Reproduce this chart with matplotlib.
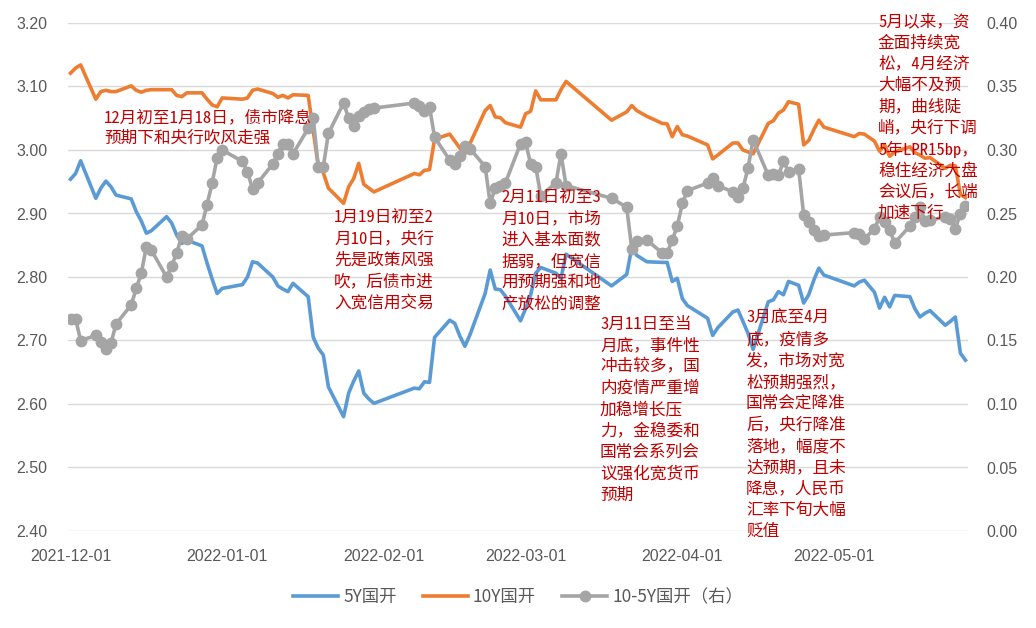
import matplotlib
matplotlib.use('Agg')
import matplotlib.pyplot as plt
from matplotlib import font_manager
from matplotlib.lines import Line2D
from matplotlib.ticker import FormatStrFormatter
from datetime import datetime, timedelta

dates = [
    "2021-12-01", "2021-12-02", "2021-12-03", "2021-12-06", "2021-12-07", "2021-12-08",
    "2021-12-09", "2021-12-10", "2021-12-13", "2021-12-14", "2021-12-15", "2021-12-16",
    "2021-12-17", "2021-12-20", "2021-12-21", "2021-12-22", "2021-12-23", "2021-12-24",
    "2021-12-27", "2021-12-28", "2021-12-29", "2021-12-30", "2021-12-31",
    "2022-01-04", "2022-01-05", "2022-01-06", "2022-01-07", "2022-01-10", "2022-01-11",
    "2022-01-12", "2022-01-13", "2022-01-14", "2022-01-17", "2022-01-18", "2022-01-19",
    "2022-01-20", "2022-01-21", "2022-01-24", "2022-01-25", "2022-01-26", "2022-01-27",
    "2022-01-28", "2022-01-29", "2022-01-30",
    "2022-02-07", "2022-02-08", "2022-02-09", "2022-02-10", "2022-02-11", "2022-02-14",
    "2022-02-15", "2022-02-16", "2022-02-17", "2022-02-18", "2022-02-21", "2022-02-22",
    "2022-02-23", "2022-02-24", "2022-02-25", "2022-02-28",
    "2022-03-01", "2022-03-02", "2022-03-03", "2022-03-04", "2022-03-07", "2022-03-08",
    "2022-03-09", "2022-03-18", "2022-03-21", "2022-03-22", "2022-03-23", "2022-03-25",
    "2022-03-28", "2022-03-29", "2022-03-30", "2022-03-31",
    "2022-04-01", "2022-04-02", "2022-04-06", "2022-04-07", "2022-04-08", "2022-04-11",
    "2022-04-12", "2022-04-13", "2022-04-14", "2022-04-15", "2022-04-18", "2022-04-19",
    "2022-04-20", "2022-04-21", "2022-04-22", "2022-04-24", "2022-04-25", "2022-04-26",
    "2022-04-27", "2022-04-28", "2022-04-29",
    "2022-05-05", "2022-05-06", "2022-05-07", "2022-05-09", "2022-05-10", "2022-05-11",
    "2022-05-12", "2022-05-13", "2022-05-16", "2022-05-17", "2022-05-18", "2022-05-19",
    "2022-05-20", "2022-05-23", "2022-05-24", "2022-05-25", "2022-05-26", "2022-05-27",
]

cdb_5y = [
    2.954, 2.963, 2.983, 2.924, 2.940, 2.951,
    2.942, 2.929, 2.923, 2.903, 2.888, 2.869,
    2.873, 2.895, 2.885, 2.866, 2.853, 2.858,
    2.849, 2.822, 2.797, 2.774, 2.782,
    2.788, 2.800, 2.824, 2.822, 2.800, 2.786,
    2.781, 2.777, 2.790, 2.769, 2.705, 2.688,
    2.677, 2.627, 2.580, 2.617, 2.636, 2.652,
    2.617, 2.608, 2.601,
    2.625, 2.624, 2.635, 2.634, 2.705, 2.732,
    2.727, 2.707, 2.691, 2.709, 2.774, 2.811,
    2.781, 2.780, 2.770, 2.731,
    2.750, 2.772, 2.806, 2.815, 2.806, 2.798,
    2.836, 2.786, 2.804, 2.846, 2.834, 2.824,
    2.823, 2.823, 2.793, 2.798,
    2.766, 2.755, 2.735, 2.708, 2.720, 2.745,
    2.748, 2.730, 2.711, 2.686, 2.761, 2.764,
    2.777, 2.772, 2.793, 2.787, 2.759, 2.772,
    2.795, 2.814, 2.803,
    2.786, 2.792, 2.795, 2.776, 2.751, 2.768,
    2.753, 2.771, 2.769, 2.750, 2.737, 2.743,
    2.747, 2.724, 2.730, 2.737, 2.680, 2.669,
]

cdb_10y = [
    3.121, 3.129, 3.134, 3.080, 3.092, 3.094,
    3.092, 3.092, 3.101, 3.094, 3.091, 3.094,
    3.095, 3.095, 3.095, 3.086, 3.084, 3.090,
    3.090, 3.080, 3.071, 3.068, 3.082,
    3.080, 3.082, 3.094, 3.096, 3.089, 3.083,
    3.086, 3.082, 3.087, 3.086, 3.030, 2.975,
    2.964, 2.940, 2.916, 2.942, 2.955, 2.979,
    2.946, 2.940, 2.934,
    2.963, 2.961, 2.968, 2.969, 3.017, 3.025,
    3.014, 3.003, 2.994, 3.010, 3.062, 3.070,
    3.052, 3.051, 3.043, 3.036,
    3.057, 3.061, 3.093, 3.079, 3.079, 3.095,
    3.108, 3.047, 3.060, 3.070, 3.062, 3.053,
    3.042, 3.041, 3.021, 3.037,
    3.024, 3.022, 3.008, 2.986, 2.992, 3.011,
    3.011, 3.000, 2.997, 2.994, 3.042, 3.046,
    3.058, 3.063, 3.076, 3.072, 3.008, 3.015,
    3.032, 3.047, 3.036,
    3.021, 3.026, 3.025, 3.014, 2.998, 3.008,
    2.990, 2.997, 3.005, 2.996, 2.992, 2.987,
    2.988, 2.971, 2.976, 2.975, 2.930, 2.925,
]

spread_10_5 = [
    0.167, 0.167, 0.150, 0.154, 0.149, 0.143,
    0.148, 0.163, 0.178, 0.191, 0.203, 0.224,
    0.221, 0.200, 0.209, 0.219, 0.232, 0.230,
    0.241, 0.257, 0.274, 0.294, 0.300,
    0.291, 0.283, 0.269, 0.274, 0.289, 0.297,
    0.305, 0.305, 0.297, 0.317, 0.325, 0.287,
    0.287, 0.313, 0.337, 0.325, 0.319, 0.327,
    0.330, 0.332, 0.333,
    0.337, 0.335, 0.331, 0.334, 0.310, 0.292,
    0.289, 0.295, 0.303, 0.301, 0.287, 0.258,
    0.270, 0.272, 0.274, 0.305,
    0.306, 0.289, 0.287, 0.264, 0.274, 0.297,
    0.272, 0.262, 0.255, 0.222, 0.228, 0.229,
    0.219, 0.219, 0.229, 0.240,
    0.258, 0.268, 0.274, 0.278, 0.272, 0.267,
    0.263, 0.270, 0.286, 0.308, 0.280, 0.281,
    0.280, 0.291, 0.283, 0.285, 0.249, 0.243,
    0.237, 0.232, 0.233,
    0.235, 0.234, 0.230, 0.238, 0.247, 0.243,
    0.237, 0.227, 0.240, 0.247, 0.255, 0.244,
    0.245, 0.247, 0.246, 0.238, 0.250, 0.256,
]

x_tick_labels = ["2021-12-01", "2022-01-01", "2022-02-01", "2022-03-01", "2022-04-01", "2022-05-01"]
left_ticks = [2.40, 2.50, 2.60, 2.70, 2.80, 2.90, 3.00, 3.10, 3.20]
right_ticks = [0.00, 0.05, 0.10, 0.15, 0.20, 0.25, 0.30, 0.35, 0.40]
series_names = ["5Y国开", "10Y国开", "10-5Y国开（右）"]

notes = [
    "12月初至1月18日，债市降息\n预期下和央行吹风走强",
    "1月19日初至2\n月10日，央行\n先是政策风强\n吹，后债市进\n入宽信用交易",
    "2月11日初至3\n月10日，市场\n进入基本面数\n据弱，但宽信\n用预期强和地\n产放松的调整",
    "3月11日至当\n月底，事件性\n冲击较多，国\n内疫情严重增\n加稳增长压\n力，金稳委和\n国常会系列会\n议强化宽货币\n预期",
    "3月底至4月\n底，疫情多\n发，市场对宽\n松预期强烈，\n国常会定降准\n后，央行降准\n落地，幅度不\n达预期，且未\n降息，人民币\n汇率下旬大幅\n贬值",
    "5月以来，资\n金面持续宽\n松，4月经济\n大幅不及预\n期，曲线陡\n峭，央行下调\n5年LPR15bp，\n稳住经济大盘\n会议后，长端\n加速下行",
]
# left x and first-line centre y of each note, in picture pixels
note_pos_px = [(104, 117), (334, 217), (501, 197), (600, 324), (746, 318), (878, 21)]
line_pitch_px = 21.35


def have_font(name):
    try:
        font_manager.findfont(font_manager.FontProperties(family=name),
                              fallback_to_default=False)
        return True
    except Exception:
        return False


mono_ok = have_font('Noto Sans Mono CJK SC')
note_family = (['Noto Sans Mono CJK SC', 'Noto Sans CJK SC', 'DejaVu Sans'] if mono_ok
               else ['Noto Sans CJK SC', 'DejaVu Sans'])

plt.rcParams['font.family'] = ['Noto Sans CJK SC', 'DejaVu Sans']

W, H = 1036, 628
fig = plt.figure(figsize=(W / 100, H / 100), dpi=100)
ax = fig.add_axes([68 / W, 1 - 531 / H, 900 / W, 508 / H])
ax2 = ax.twinx()

x = [datetime.strptime(d, "%Y-%m-%d") for d in dates]

c5, c10, cs = "#5B9BD5", "#ED7D31", "#A5A5A5"
ax.plot(x, cdb_5y, color=c5, lw=2.6, solid_joinstyle='round', zorder=3)
ax.plot(x, cdb_10y, color=c10, lw=2.6, solid_joinstyle='round', zorder=3)
ax2.plot(x, spread_10_5, color=cs, lw=2.6, marker='o', ms=7.5, mfc=cs, mec=cs,
         solid_joinstyle='round', zorder=3)

ax.set_ylim(2.40, 3.20)
ax.set_yticks(left_ticks)
ax.yaxis.set_major_formatter(FormatStrFormatter('%.2f'))
ax2.set_ylim(0, 0.40)
ax2.set_yticks(right_ticks)
ax2.yaxis.set_major_formatter(FormatStrFormatter('%.2f'))

x0 = x[0] - timedelta(days=0.5)
x1 = x[-1] + timedelta(days=0.5)
ax.set_xlim(x0, x1)
ax.set_xticks([datetime.strptime(t, "%Y-%m-%d") for t in x_tick_labels])
ax.set_xticklabels(x_tick_labels)

ax.grid(axis='y', color='#D9D9D9', lw=1.0)
ax.set_axisbelow(True)
for a in (ax, ax2):
    for s in a.spines.values():
        s.set_visible(False)

tick_family = ['Liberation Sans', 'DejaVu Sans']
ax.tick_params(axis='y', length=0, pad=15, labelcolor='#595959')
ax.tick_params(axis='x', length=0, pad=13, labelcolor='#595959')
ax2.tick_params(axis='y', length=0, pad=13, labelcolor='#595959')
for lab in ax.get_yticklabels() + ax.get_xticklabels() + ax2.get_yticklabels():
    lab.set_fontfamily(tick_family)
    lab.set_fontsize(11.5)

for txt, (px, py) in zip(notes, note_pos_px):
    for i, line in enumerate(txt.split("\n")):
        fs = 12
        if (not mono_ok) and "LPR" in line:
            fs = 11.2
        fig.text(px / W, 1 - (py + i * line_pitch_px) / H, line, color='#C00000',
                 fontsize=fs, ha='left', va='center', family=note_family, zorder=10)

handles = [
    Line2D([], [], color=c5, lw=2.6),
    Line2D([], [], color=c10, lw=2.6),
    Line2D([], [], color=cs, lw=2.6, marker='o', ms=7.5),
]
leg = fig.legend(handles, series_names, loc='center', bbox_to_anchor=(0.5, 1 - 597 / H),
                 ncol=3, frameon=False, handlelength=2.6, handletextpad=0.3,
                 columnspacing=1.5, prop={'family': ['Noto Sans CJK SC', 'DejaVu Sans'], 'size': 12.5})
for t in leg.get_texts():
    t.set_color('#595959')

fig.savefig("out.png", dpi=100)
